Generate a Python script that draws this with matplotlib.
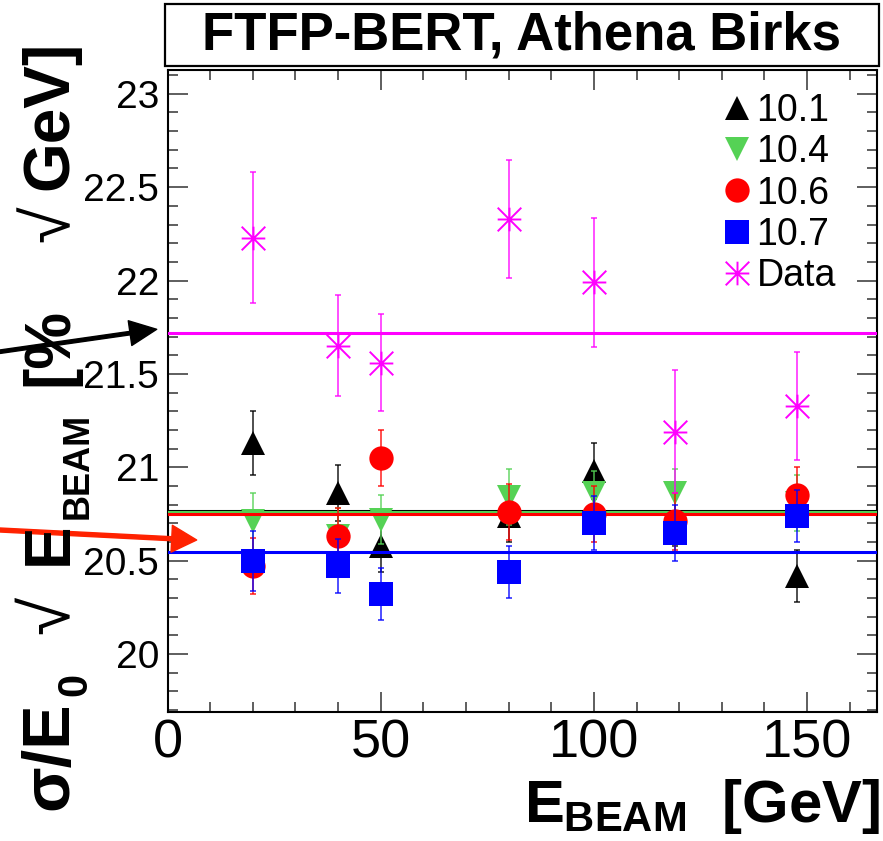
"""Energy resolution vs beam energy, FTFP-BERT with Athena Birks."""

import matplotlib

matplotlib.use("Agg")

import matplotlib.pyplot as plt
import numpy as np
from matplotlib.lines import Line2D
from matplotlib.patches import Rectangle
from matplotlib.path import Path

plt.rcParams["font.family"] = ["Liberation Sans", "DejaVu Sans"]
plt.rcParams["mathtext.fontset"] = "custom"
plt.rcParams["mathtext.rm"] = "Liberation Sans:bold"
plt.rcParams["mathtext.it"] = "Liberation Sans:bold"
plt.rcParams["mathtext.bf"] = "Liberation Sans:bold"
plt.rcParams["mathtext.sf"] = "Liberation Sans:bold"

# beam energies [GeV]
e_beam = [20, 40, 50, 80, 100, 119, 147.6]

res_101 = [21.13, 20.86, 20.58, 20.74, 20.98, 20.72, 20.42]
err_101 = [0.17, 0.15, 0.14, 0.14, 0.15, 0.14, 0.14]
res_104 = [20.71, 20.63, 20.72, 20.84, 20.86, 20.86, 20.81]
err_104 = [0.15, 0.15, 0.13, 0.15, 0.12, 0.13, 0.15]
res_106 = [20.47, 20.63, 21.05, 20.76, 20.75, 20.71, 20.85]
err_106 = [0.15, 0.15, 0.15, 0.15, 0.15, 0.15, 0.15]
res_107 = [20.50, 20.47, 20.32, 20.44, 20.70, 20.65, 20.74]
err_107 = [0.16, 0.145, 0.14, 0.14, 0.145, 0.15, 0.14]
res_data = [22.23, 21.65, 21.56, 22.33, 21.99, 21.19, 21.33]
err_data = [0.35, 0.27, 0.26, 0.315, 0.345, 0.33, 0.29]

# constant fits
fit_101 = 20.768
fit_104 = 20.760
fit_106 = 20.749
fit_107 = 20.545
fit_data = 21.718

labels = ["10.1", "10.4", "10.6", "10.7", "Data"]

W, H, DPI = 883, 841, 100

asterisk = Path(
    [(-1, 0), (1, 0), (0, -1), (0, 1), (-1, -1), (1, 1), (-1, 1), (1, -1)],
    [Path.MOVETO, Path.LINETO] * 4,
)

series = [
    (res_101, err_101, fit_101, "black", "^", 17.5),
    (res_104, err_104, fit_104, "#55d255", "v", 17.5),
    (res_106, err_106, fit_106, "#ff0000", "o", 17.5),
    (res_107, err_107, fit_107, "#0000ff", "s", 16.8),
    (res_data, err_data, fit_data, "#ff00ff", asterisk, 17.0),
]


def px(x, y):
    """Pixel position (from top-left) to figure fraction."""
    return x / W, 1 - y / H


fig = plt.figure(figsize=(W / DPI, H / DPI), dpi=DPI)
ax = fig.add_axes([167.5 / W, 1 - 712 / H, (877 - 167.5) / W, (712 - 69.5) / H])

handles = []
for i, (vals, errs, fit, color, marker, ms) in enumerate(series):
    z = 3 + i
    ax.errorbar(e_beam, vals, yerr=errs, fmt="none", ecolor=color, elinewidth=1.3,
                capsize=2.2, capthick=1.3, alpha=0.75, zorder=z)
    if marker is asterisk:
        ax.plot(e_beam, vals, linestyle="none", marker=marker, ms=ms, mew=1.4,
                mec=color, fillstyle="none", zorder=z)
    else:
        ax.plot(e_beam, vals, linestyle="none", marker=marker, ms=ms, mew=0,
                color=color, zorder=z)
    ax.axhline(fit, color=color, linewidth=2.2, zorder=z)
    handles.append(Line2D([], [], linestyle="none", marker=marker, ms=ms,
                          color=color, mec=color,
                          mew=1.4 if marker is asterisk else 0,
                          fillstyle="none" if marker is asterisk else "full"))

ax.set_xlim(0, 166.4)
ax.set_ylim(19.69, 23.13)
ax.set_xticks([0, 50, 100, 150])
ax.set_xticks(np.arange(0, 170, 10), minor=True)
ax.set_yticks([20, 20.5, 21, 21.5, 22, 22.5, 23])
ax.set_yticklabels(["20", "20.5", "21", "21.5", "22", "22.5", "23"])
ax.set_yticks(np.arange(19.7, 23.15, 0.1), minor=True)
ax.tick_params(which="both", direction="in", top=True, right=True,
               color="#333333", width=1.1)
ax.tick_params(which="major", length=14.4)
ax.tick_params(which="minor", length=7.2)
ax.tick_params(axis="x", labelsize=39, pad=5)
ax.tick_params(axis="y", labelsize=28, pad=6)
for spine in ax.spines.values():
    spine.set_linewidth(1.5)

leg_x, leg_y = px(722, 93)
ax.legend(handles, labels, loc="upper left", bbox_to_anchor=(leg_x, leg_y),
          bbox_transform=fig.transFigure, frameon=False, fontsize=27,
          handlelength=0.8, handletextpad=0.12, labelspacing=0.14,
          borderpad=0, borderaxespad=0)

# title box
bx0, by1 = px(165, 66)
box = Rectangle((bx0, by1), (879 - 165) / W, (66 - 4) / H, transform=fig.transFigure,
                facecolor="white", edgecolor="black", linewidth=1.6)
fig.add_artist(box)
fig.text(*px(522, 35), "FTFP-BERT, Athena Birks", ha="center", va="center",
         fontsize=38, fontweight="bold")

fig.text(*px(880, 822), r"$E_{BEAM}$  $[GeV]$", ha="right", va="baseline",
         fontsize=43)

# y title, built piece by piece (ROOT-like subscripts sit lower)
ytitle = [
    # text, size, weight, baseline x, centre y  (pixels)
    ("σ/E", 48, "bold", 67, 756),
    ("0", 30, "bold", 86, 684),
    ("√", 50, "normal", 69, 615),
    ("E", 46, "bold", 67, 544),
    ("BEAM", 26, "bold", 88, 466),
    ("[%", 46, "bold", 67, 347),
    ("√", 48, "normal", 69, 224),
    ("GeV]", 46, "bold", 67, 115),
]
for text, size, weight, bx, cy in ytitle:
    fig.text(*px(bx, cy), text, rotation=90, rotation_mode="anchor",
             ha="center", va="baseline", fontsize=size, fontweight=weight)

# arrows
ax.annotate("", xy=px(156.7, 329.3), xytext=px(0, 351.7),
            xycoords="figure fraction", textcoords="figure fraction",
            arrowprops=dict(facecolor="black", edgecolor="black", width=2.5,
                            headwidth=18, headlength=19.4, shrink=0),
            annotation_clip=False, zorder=20)
ax.annotate("", xy=px(196.7, 540), xytext=px(0, 530),
            xycoords="figure fraction", textcoords="figure fraction",
            arrowprops=dict(facecolor="#ff2200", edgecolor="#ff2200", width=2.9,
                            headwidth=19.4, headlength=18, shrink=0),
            annotation_clip=False, zorder=20)

fig.savefig("out.png", dpi=DPI)
